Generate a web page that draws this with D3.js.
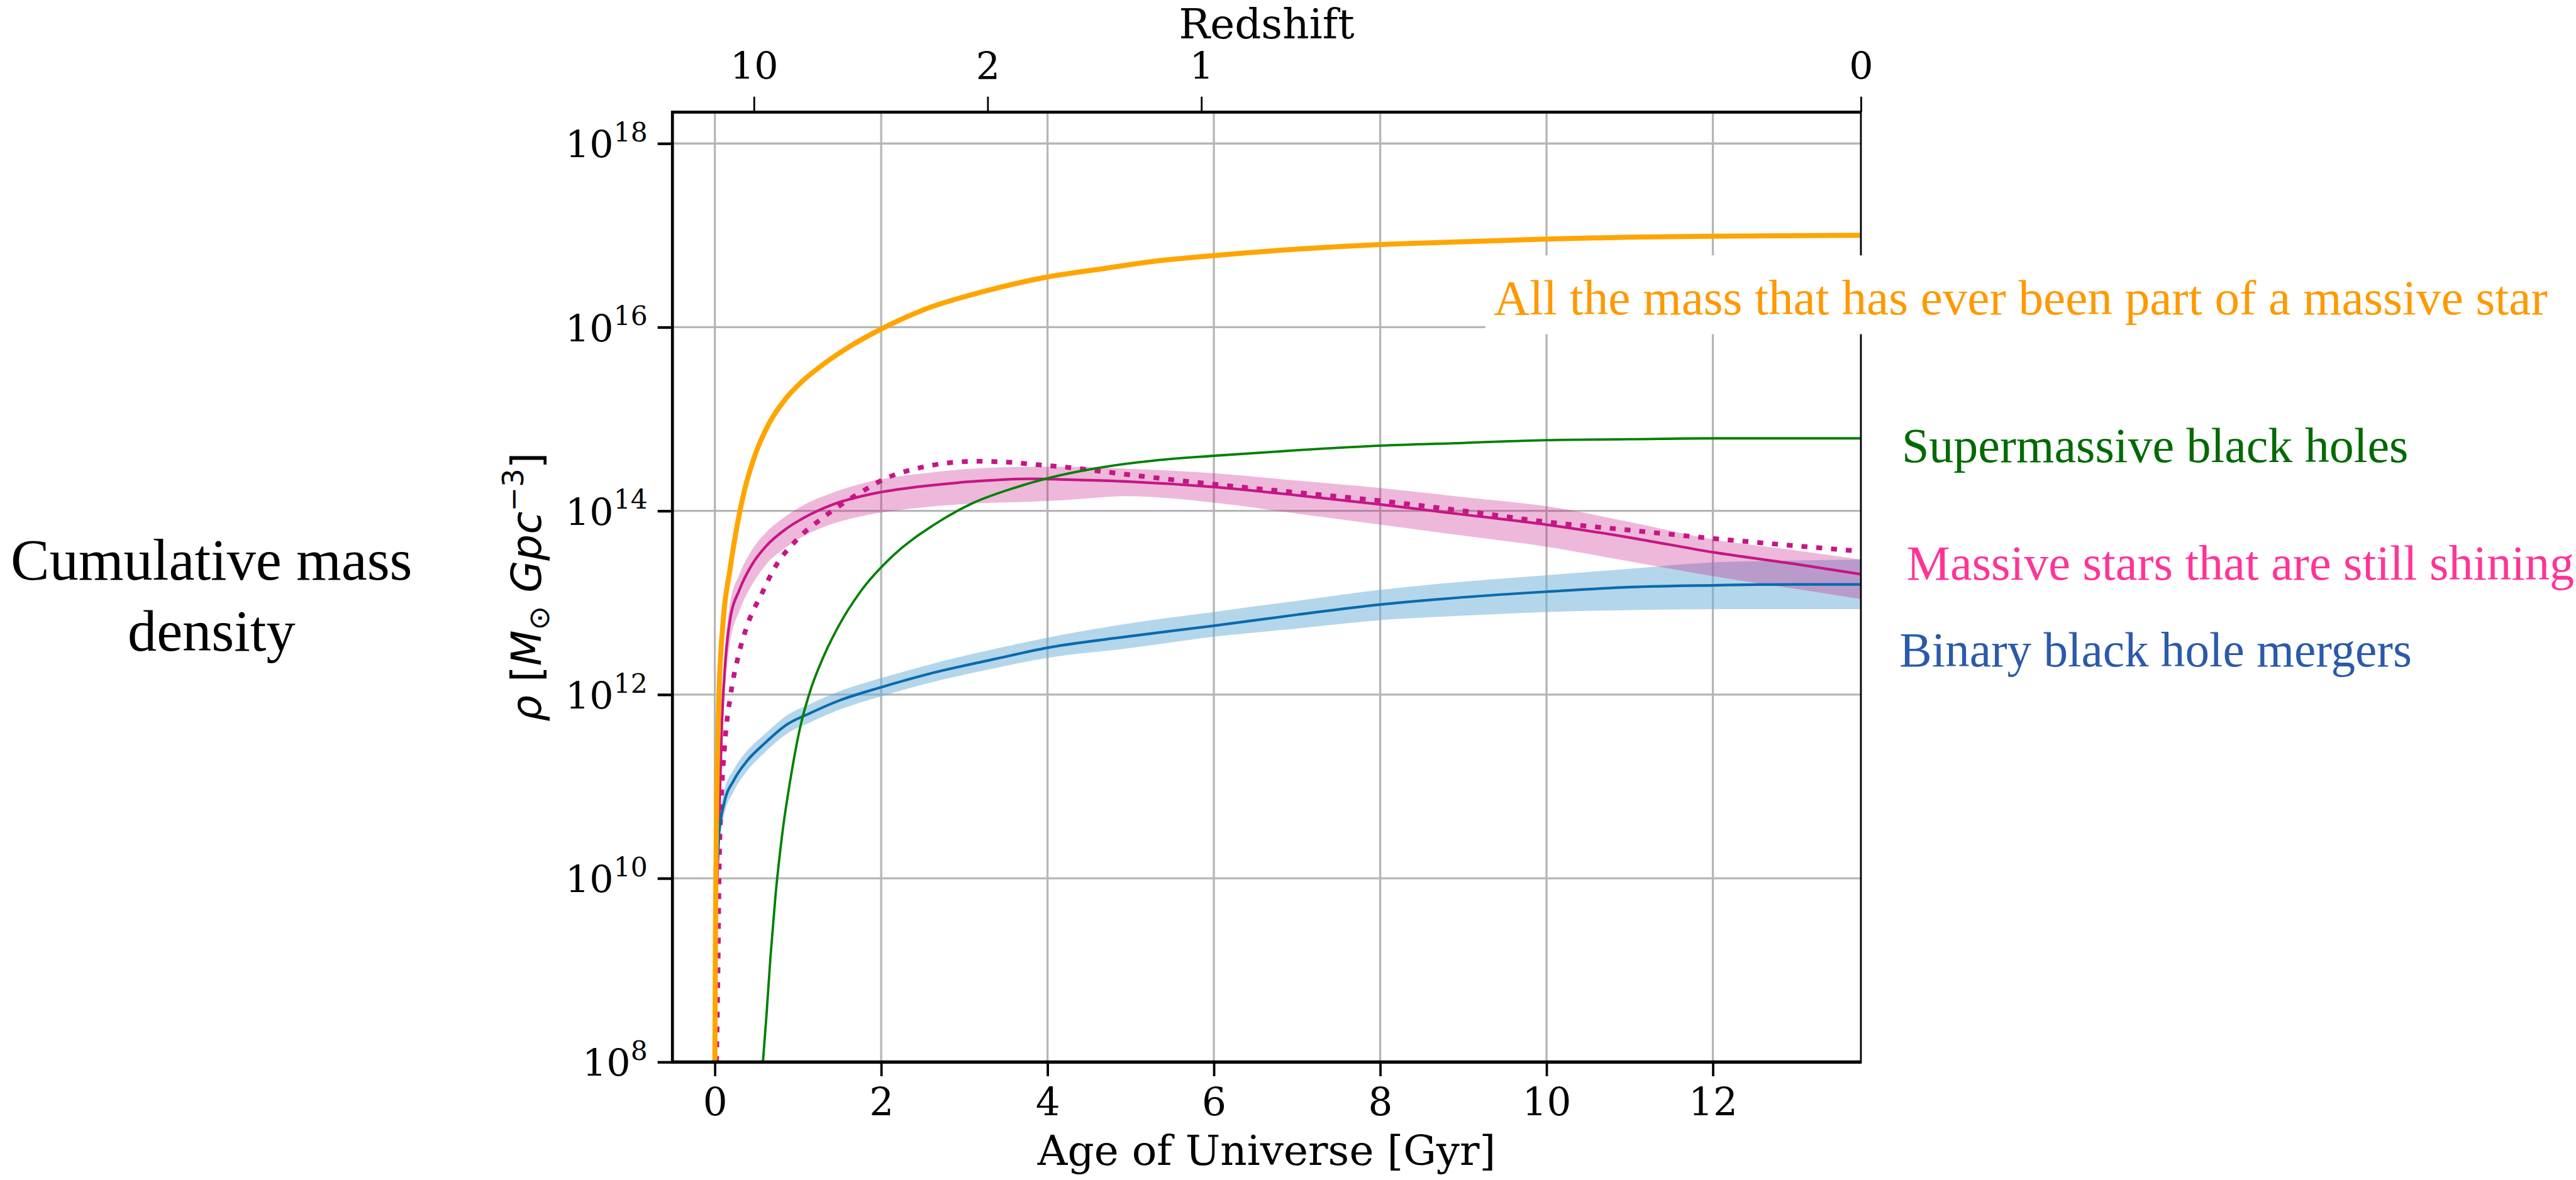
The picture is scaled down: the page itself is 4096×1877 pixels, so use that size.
<!DOCTYPE html>
<html>
<head>
<meta charset="utf-8">
<script src="https://cdn.jsdelivr.net/npm/d3@7/dist/d3.min.js"></script>
<style>
  html, body { margin: 0; padding: 0; background: #fff; overflow: hidden; }
  svg { display: block; }
</style>
</head>
<body>
<svg id="chart" width="4096" height="1877" viewBox="0 0 4348 1992"></svg>
<script>
// ---- data: age of the Universe [Gyr] and log10 of cumulative mass density [Msun Gpc^-3] ----
const ageTicks = [0, 2, 4, 6, 8, 10, 12];
const densityTicks = [8, 10, 12, 14, 16, 18];            // exponents of 10
const redshiftLabels = ["10", "2", "1", "0"];
const redshiftAges = [0.47, 3.28, 5.85, 13.78];

// all the mass that has ever been part of a massive star
const everAge = [0.0, 0.005, 0.012, 0.025, 0.05, 0.1, 0.18, 0.27, 0.35, 0.48, 0.65, 0.85, 1.05, 1.31, 1.64, 2.0, 2.51, 3.24, 3.96, 4.69, 5.3, 6.0, 7.0, 8.0, 9.0, 10.0, 11.0, 12.0, 13.78];
const everLog = [8.0, 9.0, 10.0, 11.0, 12.0, 12.8, 13.35, 13.85, 14.2, 14.6, 14.95, 15.22, 15.41, 15.6, 15.8, 15.98, 16.19, 16.39, 16.54, 16.64, 16.72, 16.78, 16.85, 16.9, 16.93, 16.96, 16.98, 16.99, 17.0];

// supermassive black holes
const smbhAge = [0.578, 0.62, 0.67, 0.73, 0.81, 0.92, 1.02, 1.15, 1.3, 1.49, 1.75, 2.15, 2.62, 3.09, 3.6, 4.02, 4.69, 5.3, 6.0, 7.0, 8.0, 9.0, 10.0, 11.0, 12.0, 13.78];
const smbhLog = [8.0, 8.5, 9.16, 9.82, 10.48, 11.14, 11.62, 12.05, 12.4, 12.75, 13.12, 13.52, 13.84, 14.08, 14.25, 14.36, 14.48, 14.55, 14.6, 14.66, 14.71, 14.74, 14.77, 14.78, 14.79, 14.79];

// massive stars that are still shining: median with uncertainty band
const shiningAge = [0.03, 0.05, 0.085, 0.13, 0.18, 0.3, 0.45, 0.62, 0.85, 1.06, 1.42, 1.86, 2.42, 3.1, 3.8, 4.24, 4.94, 6.0, 7.0, 8.0, 9.0, 10.0, 11.0, 12.0, 13.0, 13.78];
const shiningLog = [10.0, 10.6, 11.7, 12.4, 12.8, 13.15, 13.42, 13.62, 13.8, 13.92, 14.07, 14.18, 14.26, 14.32, 14.35, 14.34, 14.32, 14.26, 14.17, 14.07, 13.96, 13.85, 13.71, 13.55, 13.42, 13.31];
const shiningLow = [9.8, 10.3, 11.4, 12.15, 12.55, 12.92, 13.2, 13.42, 13.6, 13.72, 13.86, 13.96, 14.03, 14.08, 14.1, 14.12, 14.16, 14.09, 13.97, 13.85, 13.73, 13.61, 13.45, 13.29, 13.15, 13.04];
const shiningHigh = [10.3, 10.9, 11.95, 12.6, 12.98, 13.32, 13.58, 13.77, 13.94, 14.06, 14.2, 14.32, 14.4, 14.46, 14.48, 14.48, 14.46, 14.41, 14.33, 14.25, 14.15, 14.05, 13.88, 13.69, 13.57, 13.47];

// massive stars still shining, alternative model (dotted)
const shiningAltAge = [0.02, 0.04, 0.05, 0.076, 0.12, 0.19, 0.29, 0.4, 0.57, 0.7, 1.0, 1.29, 1.75, 2.07, 2.42, 2.78, 3.14, 3.53, 3.91, 4.29, 4.65, 5.2, 6.0, 7.0, 8.0, 9.0, 10.0, 11.0, 12.0, 13.0, 13.78];
const shiningAltLog = [8.0, 9.17, 10.0, 10.81, 11.47, 12.0, 12.45, 12.78, 13.11, 13.35, 13.7, 13.92, 14.2, 14.36, 14.46, 14.52, 14.54, 14.53, 14.5, 14.47, 14.43, 14.37, 14.29, 14.2, 14.11, 14.0, 13.88, 13.79, 13.7, 13.62, 13.56];

// binary black hole mergers: median with uncertainty band
const bbhAge = [0.035, 0.05, 0.11, 0.23, 0.38, 0.6, 0.86, 1.15, 1.48, 2.0, 2.55, 3.38, 4.0, 4.94, 6.0, 7.0, 8.0, 9.0, 10.0, 11.0, 12.0, 13.0, 13.78];
const bbhLog = [10.2, 10.48, 10.81, 11.07, 11.27, 11.47, 11.67, 11.8, 11.93, 12.08, 12.22, 12.39, 12.51, 12.63, 12.75, 12.87, 12.98, 13.06, 13.12, 13.17, 13.19, 13.2, 13.2];
const bbhLow = [10.1, 10.36, 10.68, 10.95, 11.16, 11.37, 11.57, 11.7, 11.83, 11.98, 12.12, 12.29, 12.4, 12.5, 12.63, 12.72, 12.81, 12.86, 12.9, 12.92, 12.93, 12.93, 12.93];
const bbhHigh = [10.3, 10.6, 10.94, 11.19, 11.38, 11.57, 11.77, 11.9, 12.03, 12.18, 12.32, 12.5, 12.62, 12.77, 12.9, 13.02, 13.14, 13.23, 13.3, 13.37, 13.44, 13.46, 13.47];

// ---- layout ----
const svg = d3.select("#chart");
const plot = { left: 1135, right: 3141, top: 189, bottom: 1793 };
const serif = "'DejaVu Serif', serif";

const x = d3.scaleLinear().domain([-0.51, 13.78]).range([plot.left, plot.right]);
const y = d3.scaleLog().domain([1e8, Math.pow(10, 18.342)]).range([plot.bottom, plot.top]);

svg.append("rect").attr("width", 4348).attr("height", 1992).attr("fill", "#fff");

svg.append("defs").append("clipPath").attr("id", "plotClip")
  .append("rect")
  .attr("x", plot.left).attr("y", plot.top)
  .attr("width", plot.right - plot.left).attr("height", plot.bottom - plot.top);

// grid
const grid = svg.append("g").attr("stroke", "#b6b6b6").attr("stroke-width", 3.5);
grid.selectAll("line.v").data(ageTicks).join("line")
  .attr("x1", d => x(d)).attr("x2", d => x(d))
  .attr("y1", plot.top).attr("y2", plot.bottom);
grid.selectAll("line.h").data(densityTicks).join("line")
  .attr("x1", plot.left).attr("x2", plot.right)
  .attr("y1", d => y(Math.pow(10, d))).attr("y2", d => y(Math.pow(10, d)));

// series helpers
const zip = (a, b) => a.map((t, i) => [t, b[i]]);
const zip3 = (a, lo, hi) => a.map((t, i) => [t, lo[i], hi[i]]);
const line = d3.line().x(d => x(d[0])).y(d => y(Math.pow(10, d[1]))).curve(d3.curveMonotoneX);
const band = d3.area().x(d => x(d[0]))
  .y0(d => y(Math.pow(10, d[1]))).y1(d => y(Math.pow(10, d[2]))).curve(d3.curveMonotoneX);

const data = svg.append("g").attr("clip-path", "url(#plotClip)");

data.append("path").datum(zip3(bbhAge, bbhLow, bbhHigh))
  .attr("d", band).attr("fill", "#6aaed6").attr("fill-opacity", 0.5);
data.append("path").datum(zip3(shiningAge, shiningLow, shiningHigh))
  .attr("d", band).attr("fill", "#c71585").attr("fill-opacity", 0.3);

data.append("path").datum(zip(shiningAltAge, shiningAltLog))
  .attr("d", line).attr("fill", "none").attr("stroke", "#c71585")
  .attr("stroke-width", 8).attr("stroke-dasharray", "10,15");
data.append("path").datum(zip(shiningAge, shiningLog))
  .attr("d", line).attr("fill", "none").attr("stroke", "#c71585").attr("stroke-width", 4.5);
data.append("path").datum(zip(bbhAge, bbhLog))
  .attr("d", line).attr("fill", "none").attr("stroke", "#0a6aad").attr("stroke-width", 4.5);
data.append("path").datum(zip(smbhAge, smbhLog))
  .attr("d", line).attr("fill", "none").attr("stroke", "#008000").attr("stroke-width", 4);
data.append("path").datum(zip(everAge, everLog))
  .attr("d", line).attr("fill", "none").attr("stroke", "#ffa500").attr("stroke-width", 8.5);

// axes
const styleAxis = g => {
  g.select(".domain").remove();
  g.selectAll(".tick line").attr("stroke", "#000");
  g.selectAll(".tick text").attr("fill", "#000").attr("font-family", serif);
};

const xAxis = svg.append("g").attr("transform", `translate(0,${plot.bottom})`)
  .call(d3.axisBottom(x).tickValues(ageTicks).tickSize(24).tickFormat(d3.format("d")))
  .call(styleAxis);
xAxis.selectAll(".tick line").attr("stroke-width", 4);
xAxis.selectAll(".tick text").attr("y", 90).attr("dy", null).attr("font-size", 65);

const topAxis = svg.append("g").attr("transform", `translate(0,${plot.top})`)
  .call(d3.axisTop(x).tickValues(redshiftAges).tickSize(26).tickFormat((d, i) => redshiftLabels[i]))
  .call(styleAxis);
topAxis.selectAll(".tick line").attr("stroke-width", 3);
topAxis.selectAll(".tick text").attr("y", -55).attr("dy", null).attr("font-size", 64);

const yAxis = svg.append("g").attr("transform", `translate(${plot.left},0)`)
  .call(d3.axisLeft(y).tickValues(densityTicks.map(e => Math.pow(10, e))).tickSize(25).tickFormat(""))
  .call(styleAxis);
yAxis.selectAll(".tick line").attr("stroke-width", 4.5);
yAxis.selectAll(".tick text").remove();
yAxis.selectAll(".tick").each(function(d) {
  const t = d3.select(this).append("text")
    .attr("x", -42).attr("y", 24).attr("text-anchor", "end")
    .attr("font-family", serif).attr("font-size", 64).attr("fill", "#000")
    .text("10");
  t.append("tspan").attr("dy", -28).attr("font-size", 45).text(Math.round(Math.log10(d)));
});

// spines
const spines = svg.append("g").attr("stroke", "#000").attr("fill", "none");
spines.append("line").attr("x1", plot.left).attr("x2", plot.left)
  .attr("y1", plot.top - 2.5).attr("y2", plot.bottom + 2.5).attr("stroke-width", 5);
spines.append("line").attr("x1", plot.left).attr("x2", plot.right)
  .attr("y1", plot.top).attr("y2", plot.top).attr("stroke-width", 5);
spines.append("line").attr("x1", plot.left).attr("x2", plot.right)
  .attr("y1", plot.bottom).attr("y2", plot.bottom).attr("stroke-width", 5.5);
spines.append("line").attr("x1", plot.right).attr("x2", plot.right)
  .attr("y1", plot.top - 2.5).attr("y2", plot.bottom + 2.5).attr("stroke-width", 3);

// axis titles
svg.append("text").attr("x", (plot.left + plot.right) / 2).attr("y", 64)
  .attr("text-anchor", "middle").attr("font-family", serif).attr("font-size", 70)
  .text("Redshift");
svg.append("text").attr("x", (plot.left + plot.right) / 2).attr("y", 1967)
  .attr("text-anchor", "middle").attr("font-family", serif).attr("font-size", 70)
  .text("Age of Universe [Gyr]");

const yl = svg.append("text")
  .attr("transform", "translate(913,991) rotate(-90)")
  .attr("text-anchor", "middle")
  .attr("font-family", "'DejaVu Sans', sans-serif").attr("font-size", 70);
yl.append("tspan").attr("font-style", "italic").text("ρ ");
yl.append("tspan").text("[");
yl.append("tspan").attr("font-style", "italic").text("M");
yl.append("tspan").attr("font-size", 49).attr("dy", 14).text("⊙");
yl.append("tspan").attr("font-style", "italic").attr("dy", -14).text(" Gpc");
yl.append("tspan").attr("font-size", 49).attr("dy", -30).text("−3");
yl.append("tspan").attr("dy", 30).text("]");

// side title
const title = svg.append("text").attr("text-anchor", "middle")
  .attr("font-family", "'Liberation Serif', serif").attr("font-size", 98).attr("fill", "#000");
title.append("tspan").attr("x", 357).attr("y", 978).text("Cumulative mass");
title.append("tspan").attr("x", 357).attr("y", 1098).text("density");

// series labels
svg.append("rect").attr("x", 2507).attr("y", 431).attr("width", 1841).attr("height", 133).attr("fill", "#fff");
const labels = [
  { text: "All the mass that has ever been part of a massive star", x: 2521, y: 531, color: "#ff9900", len: 1779 },
  { text: "Supermassive black holes", x: 3210, y: 780, color: "#006a00", len: 855 },
  { text: "Massive stars that are still shining", x: 3218, y: 979, color: "#ff3496", len: 1127 },
  { text: "Binary black hole mergers", x: 3206, y: 1125, color: "#2b5aab", len: 865 }
];
svg.append("g").selectAll("text").data(labels).join("text")
  .attr("x", d => d.x).attr("y", d => d.y)
  .attr("font-family", "'Liberation Serif', serif").attr("font-size", 83)
  .attr("fill", d => d.color)
  .attr("textLength", d => d.len).attr("lengthAdjust", "spacingAndGlyphs")
  .text(d => d.text);
</script>
</body>
</html>
